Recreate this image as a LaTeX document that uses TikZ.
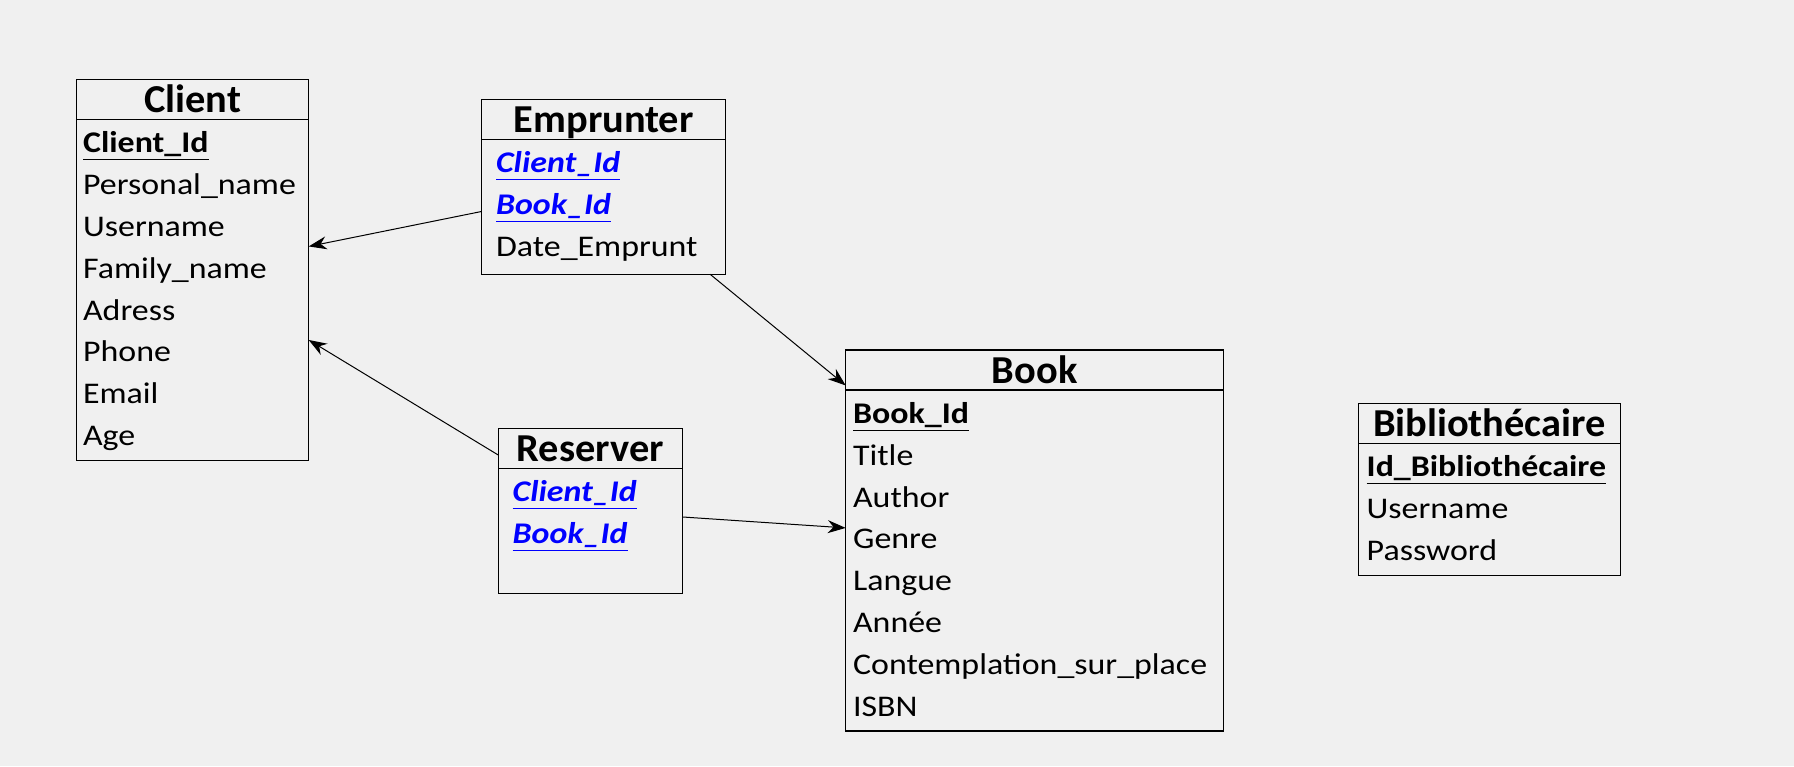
\documentclass[tikz,border=0pt]{standalone}
\usepackage{fontspec}
\setmainfont[FakeStretch=1.13]{Carlito}
\newfontfamily\headfont[FakeStretch=1.02]{Carlito}
\usetikzlibrary{calc,arrows.meta}

\definecolor{fkblue}{RGB}{0,0,255}
\definecolor{canvas}{RGB}{240,240,240}
\newcommand{\pk}[1]{\underline{\textbf{#1}}}
\newcommand{\fk}[1]{\textcolor{fkblue}{\underline{\textbf{\textit{#1}}}}}

\begin{document}
\begin{tikzpicture}[x=0.5pt, y=-0.5pt,
    entity/.style ={draw, line width=0.6pt, rectangle, inner sep=0pt, outer sep=0pt, anchor=north west},
    title/.style  ={font=\headfont\fontsize{19.8}{24}\selectfont\bfseries, anchor=base, inner sep=0pt},
    attr/.style   ={font=\fontsize{15}{18}\selectfont, anchor=base west, inner sep=0pt},
    link/.style   ={line width=0.5pt, -{Stealth[length=9pt, width=6.5pt]}}]
   \fill[canvas] (0,0) rectangle (1794,766);
   \useasboundingbox (0,0) rectangle (1794,766);

   % tables
   \node[entity, minimum width=116pt, minimum height=190.5pt] (client) at (76.7,79.3) {};
   \node[entity, minimum width=122pt, minimum height=87.5pt]  (emprunter) at (481.7,99.3) {};
   \node[entity, minimum width=92pt,  minimum height=82.5pt]  (reserver) at (498.3,428.3) {};
   \node[entity, minimum width=189pt, minimum height=190.5pt] (book) at (845.7,350) {};
   \node[entity, minimum width=131pt, minimum height=86pt]    (biblio) at (1358.3,403.3) {};

   \foreach \t in {client,emprunter,reserver,book,biblio}
     \draw[line width=0.6pt] ($(\t.north west)+(0,40)$) -- ($(\t.north east)+(0,40)$);

   \node[title] (client-t)    at ($(client.north)+(0,33.5)$)    {Client};
   \node[title] (emprunter-t) at ($(emprunter.north)+(0,33.5)$) {Emprunter};
   \node[title] (reserver-t)  at ($(reserver.north)+(0,33.5)$)  {Reserver};
   \node[title] (book-t)      at ($(book.north)+(0,33.5)$)      {Book};
   \node[title] (biblio-t)    at ($(biblio.north)+(0,33.5)$)    {Bibliothécaire};

   \foreach \a [count=\i] in {\pk{Client\_Id},Personal\_name,Username,Family\_name,Adress,Phone,Email,Age}
     \node[attr] (client-\i) at ($(client.north west)+(6,31.7+41.8*\i)$) {\a};
   \foreach \a [count=\i] in {\fk{Client\_Id},\fk{Book\_Id},Date\_Emprunt}
     \node[attr] (emprunter-\i) at ($(emprunter.north west)+(14,31.7+41.8*\i)$) {\a};
   \foreach \a [count=\i] in {\fk{Client\_Id},\fk{Book\_Id}}
     \node[attr] (reserver-\i) at ($(reserver.north west)+(14,31.7+41.8*\i)$) {\a};
   \foreach \a [count=\i] in {\pk{Book\_Id},Title,Author,Genre,Langue,Année,Contemplation\_sur\_place,ISBN}
     \node[attr] (book-\i) at ($(book.north west)+(7,31.7+41.8*\i)$) {\a};
   \foreach \a [count=\i] in {\pk{Id\_Bibliothécaire},Username,Password}
     \node[attr] (biblio-\i) at ($(biblio.north west)+(8,31.7+41.8*\i)$) {\a};

   % links
   \draw[link] (emprunter) to (client);
   \draw[link] (reserver)  to (client);
   \draw[link] (emprunter) to (book);
   \draw[link] (reserver)  to (book);
\end{tikzpicture}
\end{document}
